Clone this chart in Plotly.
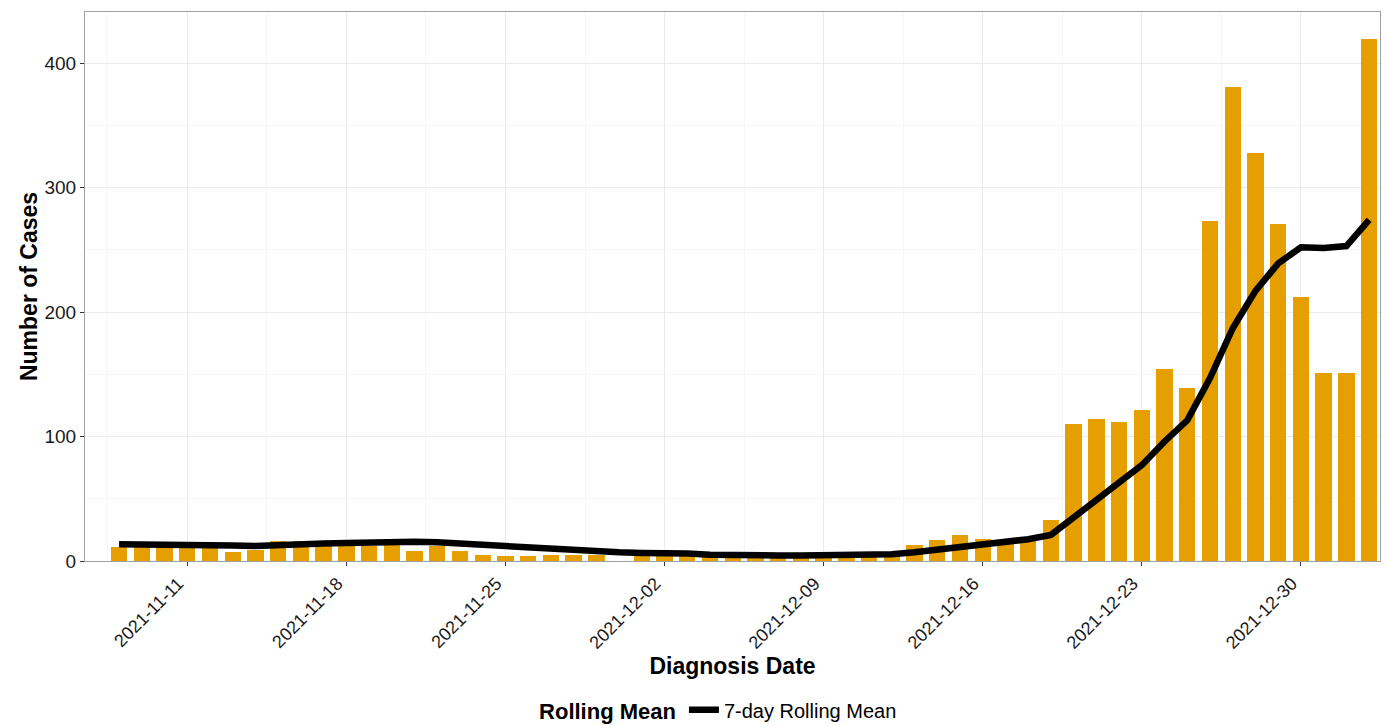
import pandas as pd
import plotly.graph_objects as go

# ---- data ----
start_date = "2021-11-08"
end_date = "2022-01-02"
dates = pd.date_range(start_date, end_date, freq="D")

cases = [
    # Nov 8 - Nov 30
    11, 12, 11, 11, 11, 7, 9, 16, 16, 13, 12, 12, 14, 8, 12, 8, 5, 4, 4, 5, 5, 5, 0,
    # Dec 1 - Dec 31
    4, 4, 4, 4, 3, 3, 5, 4, 5, 4, 5, 6, 13, 17, 21, 18, 17, 18, 33,
    110, 114, 112, 121, 154, 139, 273, 381, 328, 271, 212, 151,
    # Jan 1 - Jan 2
    151, 419,
]

rolling_mean = [
    # Nov 8 - Nov 30
    13.5, 13.5, 13, 13, 13, 12.5, 12, 13, 13.5, 14, 14.5, 15, 15.5, 15.5, 15, 14,
    12.5, 11, 10, 9, 8.5, 8, 7,
    # Dec 1 - Dec 31
    6.5, 6.5, 6, 5, 4.5, 4, 4.5, 4.5, 4.5, 4.5, 5, 5.5,
    7, 9, 11.5, 13.5, 15.5, 17.5, 21,
    35, 49.5, 62, 77, 96, 113, 147,
    187, 217, 239, 252, 251.5,
    # Jan 1 - Jan 2
    253, 274,
]

tick_labels = ["2021-11-11", "2021-11-18", "2021-11-25", "2021-12-02",
               "2021-12-09", "2021-12-16", "2021-12-23", "2021-12-30"]
y_ticks = [0, 100, 200, 300, 400]

DAY_MS = 86400000
FONT = "Liberation Sans, Arial, sans-serif"

fig = go.Figure()
fig.add_trace(go.Bar(
    x=dates, y=cases, width=0.72 * DAY_MS,
    marker=dict(color="#E69F00", line=dict(width=0)),
    showlegend=False, name="Cases",
))
fig.add_trace(go.Scatter(
    x=dates, y=rolling_mean, mode="lines",
    line=dict(color="black", width=6.5),
    name="7-day Rolling Mean", showlegend=True,
))

fig.update_layout(
    width=1389, height=725,
    margin=dict(l=85, r=9, t=12, b=164, autoexpand=False),
    plot_bgcolor="white", paper_bgcolor="white",
    font=dict(family=FONT, color="black", size=19),
    bargap=0,
    legend=dict(
        orientation="h", x=0.49, xanchor="center", y=-0.271, yanchor="middle",
        title=dict(text="<b>Rolling Mean</b>", side="left", font=dict(size=22)),
        font=dict(size=20), itemwidth=30,
    ),
)

fig.update_xaxes(
    type="date", automargin=False,
    range=["2021-11-06 12:00", "2022-01-02 11:30"],
    tickmode="array",
    tickvals=tick_labels, ticktext=tick_labels,
    tickangle=-45, ticklabelshift=-9,
    tickfont=dict(size=18, color="#1a1a1a"),
    ticks="outside", ticklen=4, tickcolor="#333333",
    showgrid=True, gridcolor="#ebebeb", gridwidth=1,
    minor=dict(tick0="2021-11-07 12:00", dtick=7 * DAY_MS, showgrid=True,
               gridcolor="#f5f5f5", gridwidth=0.8, ticks=""),
    showline=True, linecolor="#a0a0a0", linewidth=1, mirror=True,
    zeroline=False,
    title=dict(text="<b>Diagnosis Date</b>", font=dict(size=23), standoff=0),
)

fig.update_yaxes(
    automargin=False,
    range=[0, 441],
    tickmode="array", tickvals=y_ticks,
    tickfont=dict(size=19, color="#1a1a1a"),
    ticks="outside", ticklen=4, tickcolor="#333333",
    showgrid=True, gridcolor="#ebebeb", gridwidth=1,
    minor=dict(dtick=50, showgrid=True, gridcolor="#f5f5f5", gridwidth=0.8, ticks=""),
    showline=True, linecolor="#a0a0a0", linewidth=1, mirror=True,
    zeroline=False,
    title=dict(text="<b>Number of Cases</b>", font=dict(size=23), standoff=0),
)

fig.write_html(
    "out.html",
    config={"displayModeBar": False},
    post_script="document.body.style.margin='0';document.body.style.overflow='hidden';",
)
